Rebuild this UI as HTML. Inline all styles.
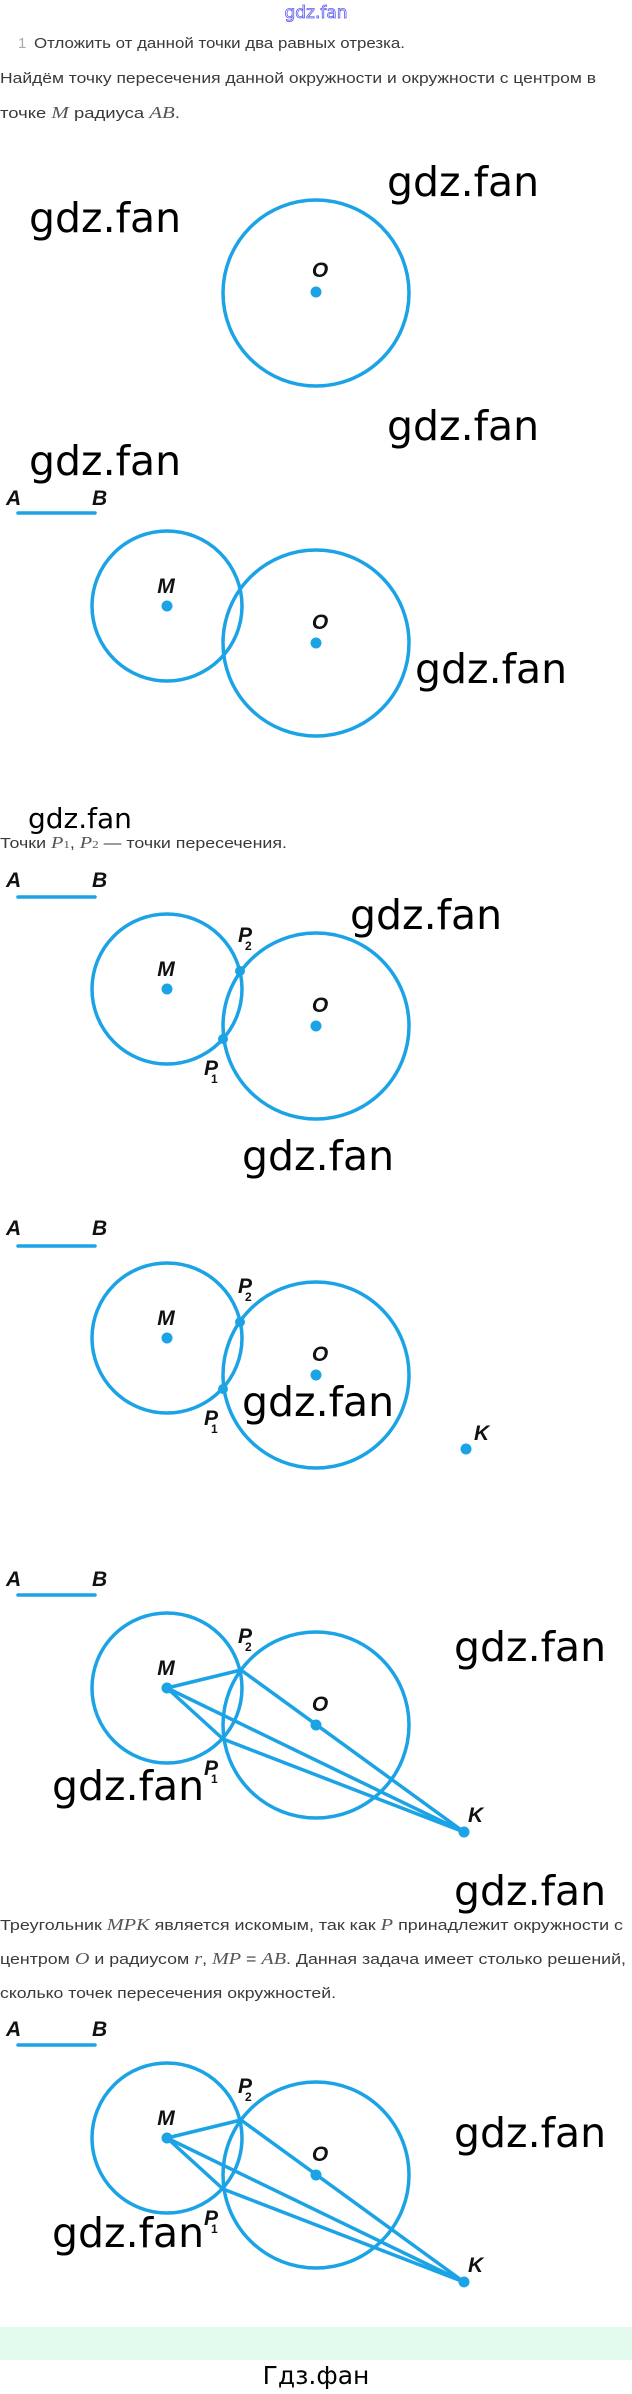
<!DOCTYPE html>
<html><head><meta charset="utf-8"><style>
html,body{margin:0;padding:0;background:#fff;}
svg{display:block;}
.t{font-family:"Liberation Sans","DejaVu Sans",sans-serif;font-size:15px;fill:#3a3a3a;}
.m{font-family:"Liberation Serif",serif;font-style:italic;font-size:17px;fill:#555;}
.w{font-family:"DejaVu Sans","Liberation Sans",sans-serif;font-size:41px;fill:#000;}
.l{font-family:"Liberation Sans",sans-serif;font-weight:bold;font-style:italic;font-size:21px;fill:#111;}
.s{font-family:"Liberation Sans",sans-serif;font-weight:bold;font-size:12px;fill:#111;}
.c{fill:none;stroke:#1ba3e6;stroke-width:3.5;}
.ln{stroke:#1ba3e6;stroke-width:3.5;stroke-linecap:round;}
.d{fill:#1ba3e6;}
</style></head><body>
<svg width="632" height="2394" viewBox="0 0 632 2394" xmlns="http://www.w3.org/2000/svg">
<text x="316" y="18" text-anchor="middle" style="font-family:'DejaVu Sans',sans-serif;font-size:17px;fill:#fff;stroke:#5a5af0;stroke-width:0.8">gdz.fan</text>
<text x="18" y="48" class="t" style="fill:#aaa">1</text>
<text x="34" y="48" class="t" textLength="371" lengthAdjust="spacingAndGlyphs">Отложить от данной точки два равных отрезка.</text>
<text x="0" y="83" class="t" textLength="596" lengthAdjust="spacingAndGlyphs">Найдём точку пересечения данной окружности и окружности с центром в</text>
<text x="0" y="118" class="t" textLength="180" lengthAdjust="spacingAndGlyphs">точке <tspan class="m">M</tspan> радиуса <tspan class="m">AB</tspan>.</text>

<!-- diagram 1 -->
<text x="29" y="232" class="w">gdz.fan</text>
<text x="387" y="196" class="w">gdz.fan</text>
<circle cx="316" cy="293" r="93" class="c"/>
<circle cx="316" cy="292" r="5.5" class="d"/>
<text x="320" y="277" class="l" text-anchor="middle">O</text>

<!-- diagram 2 -->
<text x="387" y="440" class="w">gdz.fan</text>
<text x="29" y="475" class="w">gdz.fan</text>
<text x="6" y="505" class="l">A</text><text x="92" y="505" class="l">B</text>
<line x1="18" y1="513" x2="95" y2="513" class="ln"/>
<circle cx="167" cy="606" r="75" class="c"/>
<circle cx="316" cy="643" r="93" class="c"/>
<circle cx="167" cy="606" r="5.5" class="d"/>
<circle cx="316" cy="643" r="5.5" class="d"/>
<text x="166" y="593" class="l" text-anchor="middle">M</text>
<text x="320" y="629" class="l" text-anchor="middle">O</text>
<text x="415" y="683" class="w">gdz.fan</text>

<!-- diagram 3 -->
<text x="28" y="828" class="w" style="font-size:28px">gdz.fan</text>
<text x="0" y="848" class="t" textLength="287" lengthAdjust="spacingAndGlyphs">Точки <tspan class="m">P</tspan><tspan class="m" style="font-size:11px;font-style:normal">1</tspan>, <tspan class="m">P</tspan><tspan class="m" style="font-size:11px;font-style:normal">2</tspan> — точки пересечения.</text>
<text x="6" y="887" class="l">A</text><text x="92" y="887" class="l">B</text>
<line x1="18" y1="897" x2="95" y2="897" class="ln"/>
<text x="350" y="929" class="w">gdz.fan</text>
<circle cx="167" cy="989" r="75" class="c"/>
<circle cx="316" cy="1026" r="93" class="c"/>
<circle cx="167" cy="989" r="5.5" class="d"/>
<circle cx="316" cy="1026" r="5.5" class="d"/>
<circle cx="240" cy="971" r="5" class="d"/>
<circle cx="223" cy="1039" r="5" class="d"/>
<text x="166" y="976" class="l" text-anchor="middle">M</text>
<text x="320" y="1012" class="l" text-anchor="middle">O</text>
<text x="238" y="942" class="l">P</text><text x="245" y="950" class="s">2</text>
<text x="204" y="1075" class="l">P</text><text x="211" y="1083" class="s">1</text>
<text x="242" y="1170" class="w">gdz.fan</text>

<!-- diagram 4 -->
<text x="6" y="1235" class="l">A</text><text x="92" y="1235" class="l">B</text>
<line x1="18" y1="1246" x2="95" y2="1246" class="ln"/>
<circle cx="167" cy="1338" r="75" class="c"/>
<circle cx="316" cy="1375" r="93" class="c"/>
<circle cx="167" cy="1338" r="5.5" class="d"/>
<circle cx="316" cy="1375" r="5.5" class="d"/>
<circle cx="240" cy="1322" r="5" class="d"/>
<circle cx="223" cy="1389" r="5" class="d"/>
<circle cx="466" cy="1449" r="5.5" class="d"/>
<text x="166" y="1325" class="l" text-anchor="middle">M</text>
<text x="320" y="1361" class="l" text-anchor="middle">O</text>
<text x="238" y="1293" class="l">P</text><text x="245" y="1301" class="s">2</text>
<text x="204" y="1425" class="l">P</text><text x="211" y="1433" class="s">1</text>
<text x="474" y="1440" class="l">K</text>
<text x="242" y="1416" class="w">gdz.fan</text>

<!-- diagram 5 -->
<text x="6" y="1586" class="l">A</text><text x="92" y="1586" class="l">B</text>
<line x1="18" y1="1595" x2="95" y2="1595" class="ln"/>
<text x="454" y="1661" class="w">gdz.fan</text>
<circle cx="167" cy="1688" r="75" class="c"/>
<circle cx="316" cy="1725" r="93" class="c"/>
<line x1="167" y1="1688" x2="241" y2="1670" class="ln"/>
<line x1="241" y1="1670" x2="464" y2="1832" class="ln"/>
<line x1="167" y1="1688" x2="464" y2="1832" class="ln"/>
<line x1="167" y1="1688" x2="223" y2="1739" class="ln"/>
<line x1="223" y1="1739" x2="464" y2="1832" class="ln"/>
<circle cx="167" cy="1688" r="5.5" class="d"/>
<circle cx="316" cy="1725" r="5.5" class="d"/>
<circle cx="464" cy="1832" r="5.5" class="d"/>
<text x="166" y="1675" class="l" text-anchor="middle">M</text>
<text x="320" y="1711" class="l" text-anchor="middle">O</text>
<text x="238" y="1643" class="l">P</text><text x="245" y="1651" class="s">2</text>
<text x="204" y="1775" class="l">P</text><text x="211" y="1783" class="s">1</text>
<text x="468" y="1822" class="l">K</text>
<text x="52" y="1800" class="w">gdz.fan</text>
<text x="454" y="1905" class="w">gdz.fan</text>

<text x="0" y="1930" class="t" textLength="623" lengthAdjust="spacingAndGlyphs">Треугольник <tspan class="m">MPK</tspan> является искомым, так как <tspan class="m">P</tspan> принадлежит окружности с</text>
<text x="0" y="1964" class="t" textLength="626" lengthAdjust="spacingAndGlyphs">центром <tspan class="m">O</tspan> и радиусом <tspan class="m">r</tspan>, <tspan class="m">MP</tspan> = <tspan class="m">AB</tspan>. Данная задача имеет столько решений,</text>
<text x="0" y="1998" class="t" textLength="336" lengthAdjust="spacingAndGlyphs">сколько точек пересечения окружностей.</text>

<!-- diagram 6 -->
<text x="6" y="2036" class="l">A</text><text x="92" y="2036" class="l">B</text>
<line x1="18" y1="2045" x2="95" y2="2045" class="ln"/>
<circle cx="167" cy="2138" r="75" class="c"/>
<circle cx="316" cy="2175" r="93" class="c"/>
<line x1="167" y1="2138" x2="241" y2="2120" class="ln"/>
<line x1="241" y1="2120" x2="464" y2="2282" class="ln"/>
<line x1="167" y1="2138" x2="464" y2="2282" class="ln"/>
<line x1="167" y1="2138" x2="223" y2="2189" class="ln"/>
<line x1="223" y1="2189" x2="464" y2="2282" class="ln"/>
<circle cx="167" cy="2138" r="5.5" class="d"/>
<circle cx="316" cy="2175" r="5.5" class="d"/>
<circle cx="464" cy="2282" r="5.5" class="d"/>
<text x="166" y="2125" class="l" text-anchor="middle">M</text>
<text x="320" y="2161" class="l" text-anchor="middle">O</text>
<text x="238" y="2093" class="l">P</text><text x="245" y="2101" class="s">2</text>
<text x="204" y="2225" class="l">P</text><text x="211" y="2233" class="s">1</text>
<text x="468" y="2272" class="l">K</text>
<text x="454" y="2147" class="w">gdz.fan</text>
<text x="52" y="2247" class="w">gdz.fan</text>

<rect x="0" y="2327" width="632" height="33" fill="#e2fbee"/>
<text x="316" y="2384" text-anchor="middle" style="font-family:'DejaVu Sans',sans-serif;font-size:25px;fill:#000">Гдз.фан</text>
</svg>
</body></html>
